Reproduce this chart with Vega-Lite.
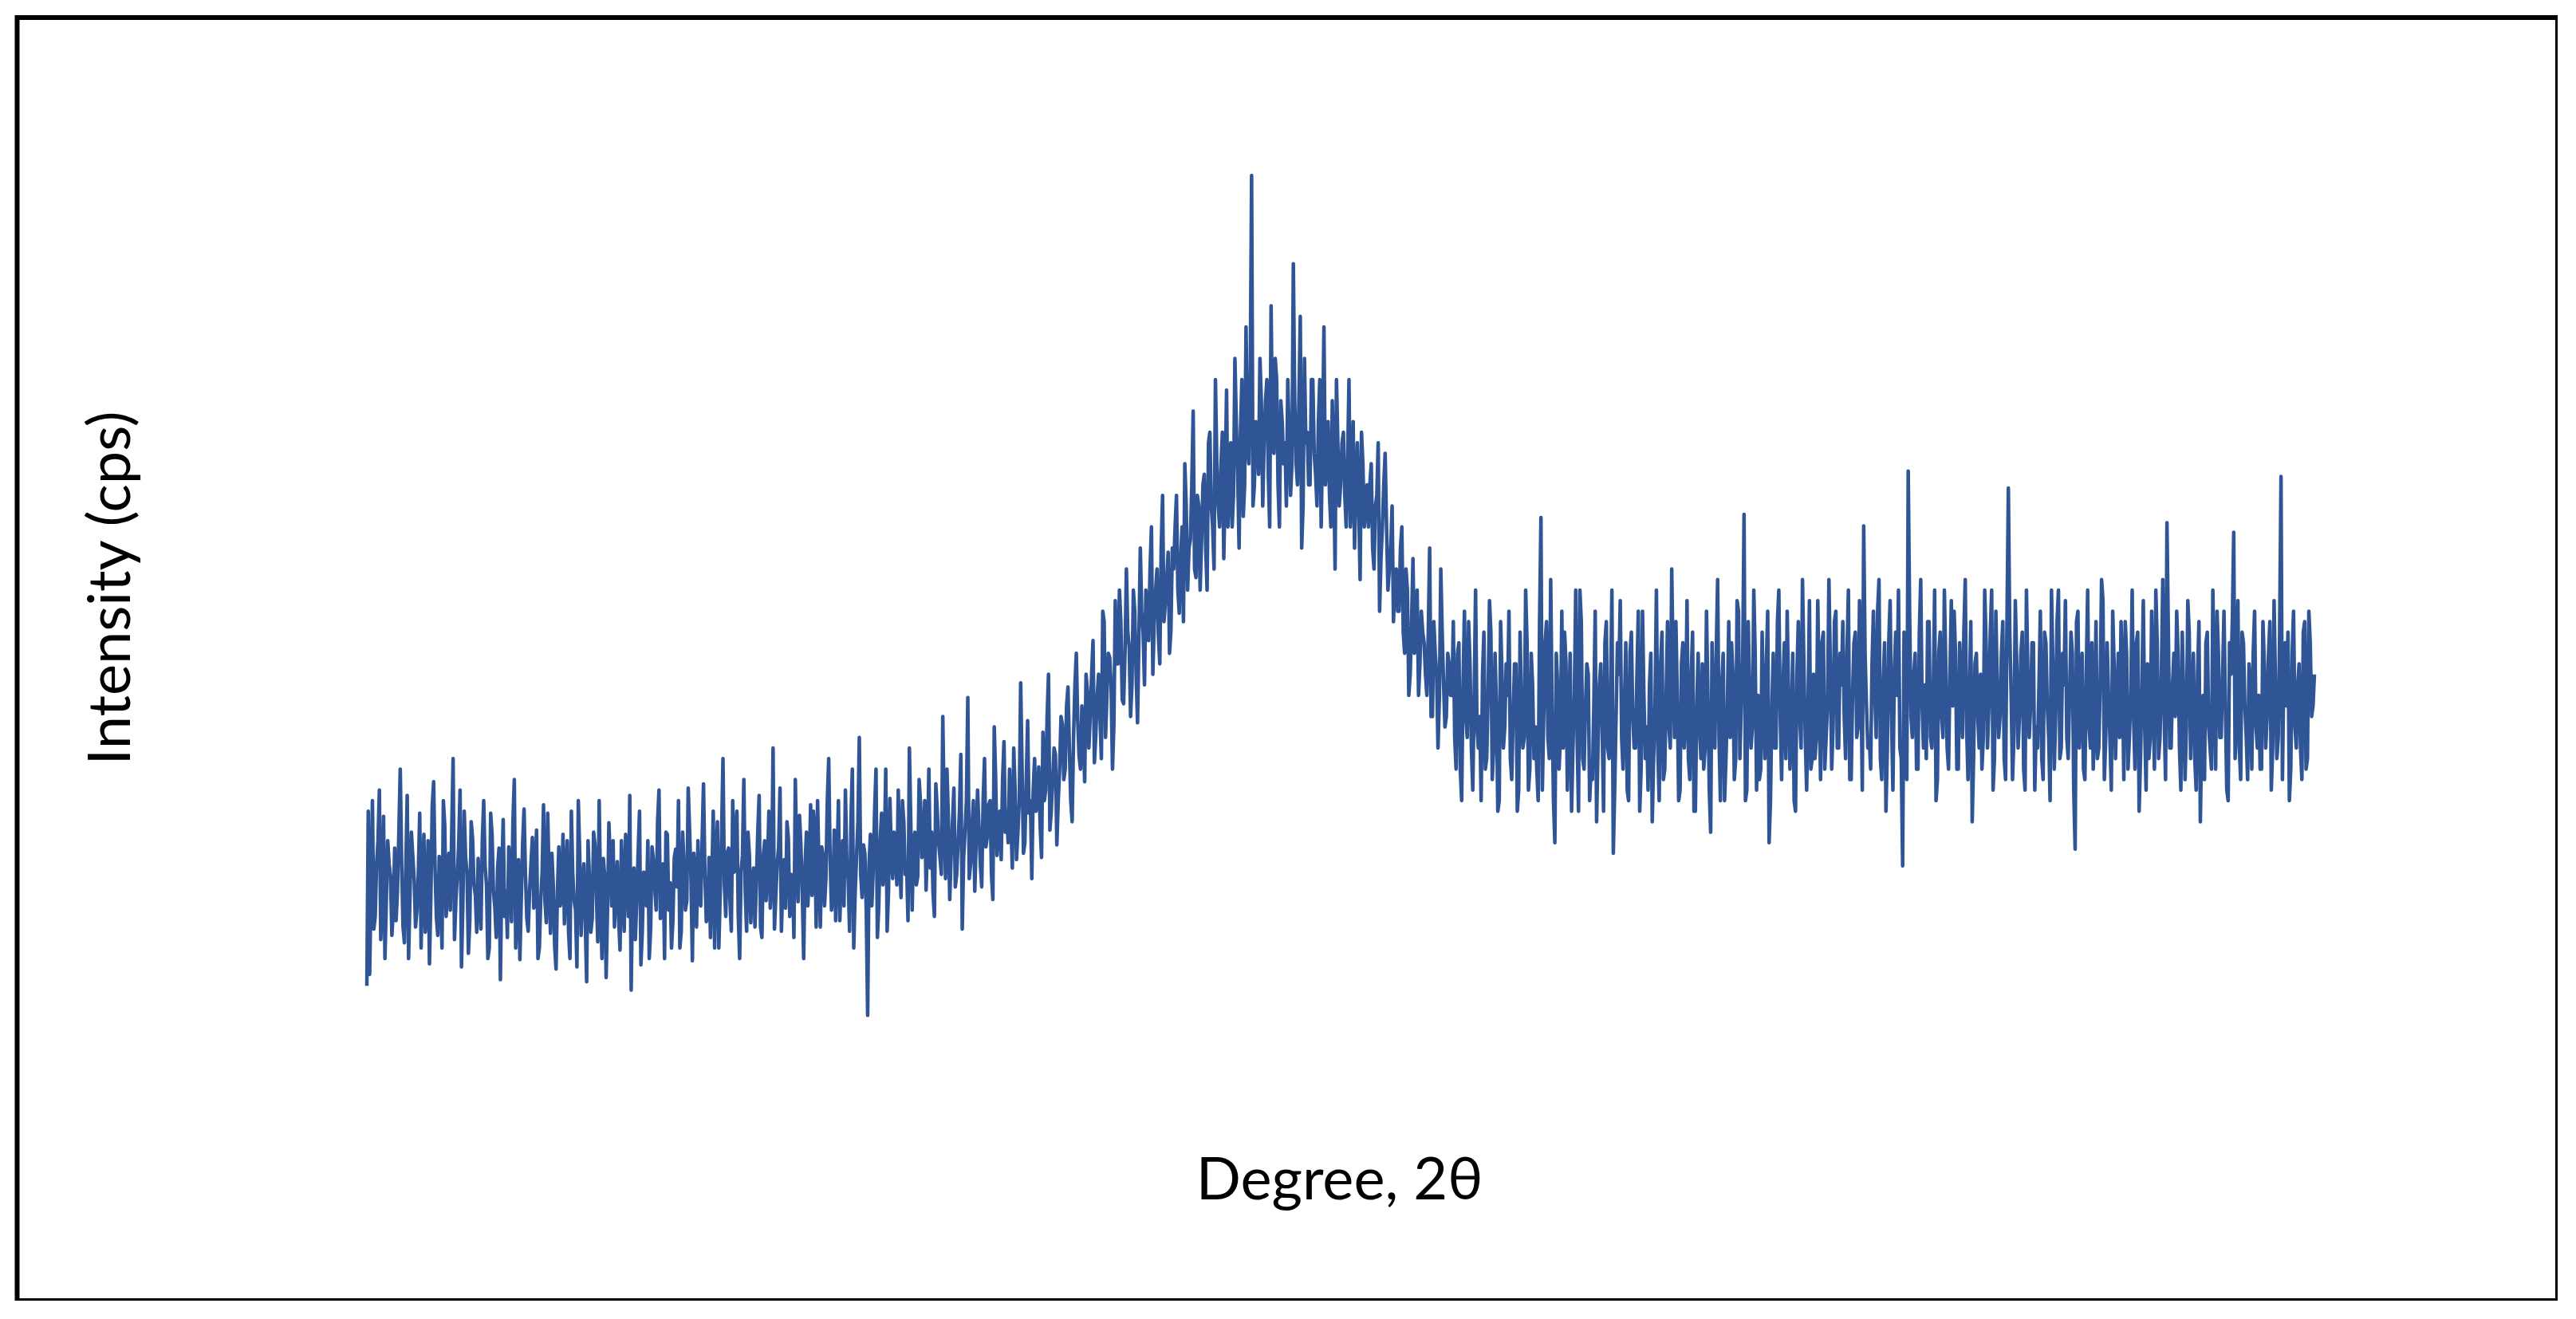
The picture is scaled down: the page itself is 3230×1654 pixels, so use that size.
{
"$schema": "https://vega.github.io/schema/vega-lite/v6.json",
"width": 3185.5,
"height": 1609,
"autosize": {"type": "none"},
"padding": {"left": 21.5, "top": 22, "right": 0, "bottom": 0},
"background": "white",
"config": {"view": {"stroke": "black", "strokeWidth": 6}, "font": "Lato"},
"data": {"values": [
{"x":10.0,"y":124},{"x":10.1,"y":135},{"x":10.2,"y":300},{"x":10.3,"y":190},{"x":10.4,"y":262},{"x":10.5,"y":168},{"x":10.6,"y":285},{"x":10.7,"y":205},{"x":10.8,"y":240},{"x":10.9,"y":172},
{"x":11.0,"y":255},{"x":11.1,"y":214},{"x":11.2,"y":330},{"x":11.3,"y":180},{"x":11.4,"y":236},{"x":11.5,"y":150},{"x":11.6,"y":270},{"x":11.7,"y":225},{"x":11.8,"y":196},{"x":11.9,"y":288},
{"x":12.0,"y":230},{"x":12.1,"y":175},{"x":12.2,"y":262},{"x":12.3,"y":208},{"x":12.4,"y":318},{"x":12.5,"y":189},{"x":12.6,"y":247},{"x":12.7,"y":160},{"x":12.8,"y":276},{"x":12.9,"y":218},
{"x":13.0,"y":196},{"x":13.1,"y":340},{"x":13.2,"y":205},{"x":13.3,"y":258},{"x":13.4,"y":142},{"x":13.5,"y":290},{"x":13.6,"y":232},{"x":13.7,"y":186},{"x":13.8,"y":264},{"x":13.9,"y":210},
{"x":14.0,"y":245},{"x":14.1,"y":178},{"x":14.2,"y":300},{"x":14.3,"y":220},{"x":14.4,"y":160},{"x":14.5,"y":268},{"x":14.6,"y":199},{"x":14.7,"y":236},{"x":14.8,"y":130},{"x":14.9,"y":282},
{"x":15.0,"y":214},{"x":15.1,"y":256},{"x":15.2,"y":185},{"x":15.3,"y":320},{"x":15.4,"y":203},{"x":15.5,"y":149},{"x":15.6,"y":260},{"x":15.7,"y":230},{"x":15.8,"y":176},{"x":15.9,"y":241},
{"x":16.0,"y":198},{"x":16.1,"y":272},{"x":16.2,"y":160},{"x":16.3,"y":232},{"x":16.4,"y":205},{"x":16.5,"y":288},{"x":16.6,"y":174},{"x":16.7,"y":220},{"x":16.8,"y":140},{"x":16.9,"y":256},
{"x":17.0,"y":210},{"x":17.1,"y":183},{"x":17.2,"y":262},{"x":17.3,"y":150},{"x":17.4,"y":231},{"x":17.5,"y":196},{"x":17.6,"y":300},{"x":17.7,"y":172},{"x":17.8,"y":240},{"x":17.9,"y":128},
{"x":18.0,"y":226},{"x":18.1,"y":188},{"x":18.2,"y":258},{"x":18.3,"y":166},{"x":18.4,"y":210},{"x":18.5,"y":245},{"x":18.6,"y":132},{"x":18.7,"y":279},{"x":18.8,"y":200},{"x":18.9,"y":180},
{"x":19.0,"y":242},{"x":19.1,"y":158},{"x":19.2,"y":220},{"x":19.3,"y":268},{"x":19.4,"y":190},{"x":19.5,"y":120},{"x":19.6,"y":236},{"x":19.7,"y":205},{"x":19.8,"y":290},{"x":19.9,"y":176},
{"x":20.0,"y":230},{"x":20.1,"y":262},{"x":20.2,"y":178},{"x":20.3,"y":244},{"x":20.4,"y":196},{"x":20.5,"y":310},{"x":20.6,"y":210},{"x":20.7,"y":150},{"x":20.8,"y":268},{"x":20.9,"y":222},
{"x":21.0,"y":186},{"x":21.1,"y":254},{"x":21.2,"y":300},{"x":21.3,"y":176},{"x":21.4,"y":238},{"x":21.5,"y":205},{"x":21.6,"y":272},{"x":21.7,"y":148},{"x":21.8,"y":230},{"x":21.9,"y":262},
{"x":22.0,"y":200},{"x":22.1,"y":316},{"x":22.2,"y":185},{"x":22.3,"y":246},{"x":22.4,"y":226},{"x":22.5,"y":160},{"x":22.6,"y":280},{"x":22.7,"y":212},{"x":22.8,"y":340},{"x":22.9,"y":190},
{"x":23.0,"y":255},{"x":23.1,"y":176},{"x":23.2,"y":232},{"x":23.3,"y":290},{"x":23.4,"y":150},{"x":23.5,"y":248},{"x":23.6,"y":213},{"x":23.7,"y":270},{"x":23.8,"y":184},{"x":23.9,"y":236},
{"x":24.0,"y":222},{"x":24.1,"y":305},{"x":24.2,"y":170},{"x":24.3,"y":262},{"x":24.4,"y":238},{"x":24.5,"y":198},{"x":24.6,"y":350},{"x":24.7,"y":210},{"x":24.8,"y":256},{"x":24.9,"y":176},
{"x":25.0,"y":244},{"x":25.1,"y":280},{"x":25.2,"y":190},{"x":25.3,"y":228},{"x":25.4,"y":320},{"x":25.5,"y":204},{"x":25.6,"y":258},{"x":25.7,"y":150},{"x":25.8,"y":270},{"x":25.9,"y":232},
{"x":26.0,"y":210},{"x":26.1,"y":266},{"x":26.2,"y":300},{"x":26.3,"y":180},{"x":26.4,"y":248},{"x":26.5,"y":226},{"x":26.6,"y":340},{"x":26.7,"y":196},{"x":26.8,"y":272},{"x":26.9,"y":240},
{"x":27.0,"y":186},{"x":27.1,"y":262},{"x":27.2,"y":310},{"x":27.3,"y":225},{"x":27.4,"y":282},{"x":27.5,"y":160},{"x":27.6,"y":246},{"x":27.7,"y":360},{"x":27.8,"y":208},{"x":27.9,"y":250},
{"x":28.0,"y":96},{"x":28.1,"y":268},{"x":28.2,"y":234},{"x":28.3,"y":330},{"x":28.4,"y":200},{"x":28.5,"y":288},{"x":28.6,"y":250},{"x":28.7,"y":176},{"x":28.8,"y":302},{"x":28.9,"y":226},
{"x":29.0,"y":262},{"x":29.1,"y":310},{"x":29.2,"y":208},{"x":29.3,"y":280},{"x":29.4,"y":240},{"x":29.5,"y":350},{"x":29.6,"y":196},{"x":29.7,"y":270},{"x":29.8,"y":228},{"x":29.9,"y":298},
{"x":30.0,"y":254},{"x":30.1,"y":215},{"x":30.2,"y":330},{"x":30.3,"y":270},{"x":30.4,"y":190},{"x":30.5,"y":292},{"x":30.6,"y":246},{"x":30.7,"y":380},{"x":30.8,"y":226},{"x":30.9,"y":284},
{"x":31.0,"y":248},{"x":31.1,"y":312},{"x":31.2,"y":230},{"x":31.3,"y":290},{"x":31.4,"y":178},{"x":31.5,"y":270},{"x":31.6,"y":398},{"x":31.7,"y":240},{"x":31.8,"y":300},{"x":31.9,"y":262},
{"x":32.0,"y":276},{"x":32.1,"y":218},{"x":32.2,"y":340},{"x":32.3,"y":266},{"x":32.4,"y":300},{"x":32.5,"y":206},{"x":32.6,"y":322},{"x":32.7,"y":270},{"x":32.8,"y":244},{"x":32.9,"y":356},
{"x":33.0,"y":290},{"x":33.1,"y":330},{"x":33.2,"y":236},{"x":33.3,"y":310},{"x":33.4,"y":270},{"x":33.5,"y":412},{"x":33.6,"y":250},{"x":33.7,"y":318},{"x":33.8,"y":288},{"x":33.9,"y":226},
{"x":34.0,"y":340},{"x":34.1,"y":300},{"x":34.2,"y":276},{"x":34.3,"y":365},{"x":34.4,"y":310},{"x":34.5,"y":420},{"x":34.6,"y":290},{"x":34.7,"y":350},{"x":34.8,"y":258},{"x":34.9,"y":330},
{"x":35.0,"y":372},{"x":35.1,"y":330},{"x":35.2,"y":408},{"x":35.3,"y":300},{"x":35.4,"y":360},{"x":35.5,"y":440},{"x":35.6,"y":342},{"x":35.7,"y":390},{"x":35.8,"y":318},{"x":35.9,"y":404},
{"x":36.0,"y":380},{"x":36.1,"y":452},{"x":36.2,"y":362},{"x":36.3,"y":420},{"x":36.4,"y":340},{"x":36.5,"y":470},{"x":36.6,"y":400},{"x":36.7,"y":436},{"x":36.8,"y":330},{"x":36.9,"y":490},
{"x":37.0,"y":430},{"x":37.1,"y":470},{"x":37.2,"y":392},{"x":37.3,"y":520},{"x":37.4,"y":446},{"x":37.5,"y":410},{"x":37.6,"y":480},{"x":37.7,"y":374},{"x":37.8,"y":540},{"x":37.9,"y":460},
{"x":38.0,"y":500},{"x":38.1,"y":452},{"x":38.2,"y":560},{"x":38.3,"y":470},{"x":38.4,"y":520},{"x":38.5,"y":430},{"x":38.6,"y":590},{"x":38.7,"y":488},{"x":38.8,"y":536},{"x":38.9,"y":462},
{"x":39.0,"y":520},{"x":39.1,"y":590},{"x":39.2,"y":478},{"x":39.3,"y":560},{"x":39.4,"y":620},{"x":39.5,"y":500},{"x":39.6,"y":548},{"x":39.7,"y":670},{"x":39.8,"y":512},{"x":39.9,"y":580},
{"x":40.0,"y":545},{"x":40.1,"y":610},{"x":40.2,"y":500},{"x":40.3,"y":650},{"x":40.4,"y":560},{"x":40.5,"y":700},{"x":40.6,"y":580},{"x":40.7,"y":620},{"x":40.8,"y":530},{"x":40.9,"y":690},
{"x":41.0,"y":600},{"x":41.1,"y":560},{"x":41.2,"y":720},{"x":41.3,"y":610},{"x":41.4,"y":650},{"x":41.5,"y":570},{"x":41.6,"y":750},{"x":41.7,"y":620},{"x":41.8,"y":894},{"x":41.9,"y":600},
{"x":42.0,"y":650},{"x":42.1,"y":720},{"x":42.2,"y":580},{"x":42.3,"y":680},{"x":42.4,"y":610},{"x":42.5,"y":770},{"x":42.6,"y":630},{"x":42.7,"y":700},{"x":42.8,"y":560},{"x":42.9,"y":660},
{"x":43.0,"y":640},{"x":43.1,"y":700},{"x":43.2,"y":590},{"x":43.3,"y":810},{"x":43.4,"y":620},{"x":43.5,"y":680},{"x":43.6,"y":540},{"x":43.7,"y":720},{"x":43.8,"y":650},{"x":43.9,"y":600},
{"x":44.0,"y":700},{"x":44.1,"y":610},{"x":44.2,"y":660},{"x":44.3,"y":560},{"x":44.4,"y":750},{"x":44.5,"y":620},{"x":44.6,"y":590},{"x":44.7,"y":680},{"x":44.8,"y":520},{"x":44.9,"y":640},
{"x":45.0,"y":600},{"x":45.1,"y":650},{"x":45.2,"y":560},{"x":45.3,"y":700},{"x":45.4,"y":590},{"x":45.5,"y":540},{"x":45.6,"y":640},{"x":45.7,"y":510},{"x":45.8,"y":620},{"x":45.9,"y":580},
{"x":46.0,"y":560},{"x":46.1,"y":620},{"x":46.2,"y":520},{"x":46.3,"y":590},{"x":46.4,"y":480},{"x":46.5,"y":560},{"x":46.6,"y":630},{"x":46.7,"y":500},{"x":46.8,"y":540},{"x":46.9,"y":470},
{"x":47.0,"y":520},{"x":47.1,"y":480},{"x":47.2,"y":560},{"x":47.3,"y":440},{"x":47.4,"y":500},{"x":47.5,"y":420},{"x":47.6,"y":530},{"x":47.7,"y":460},{"x":47.8,"y":400},{"x":47.9,"y":480},
{"x":48.0,"y":450},{"x":48.1,"y":400},{"x":48.2,"y":540},{"x":48.3,"y":380},{"x":48.4,"y":440},{"x":48.5,"y":350},{"x":48.6,"y":520},{"x":48.7,"y":410},{"x":48.8,"y":380},{"x":48.9,"y":430},
{"x":49.0,"y":400},{"x":49.1,"y":360},{"x":49.2,"y":440},{"x":49.3,"y":330},{"x":49.4,"y":410},{"x":49.5,"y":380},{"x":49.6,"y":470},{"x":49.7,"y":350},{"x":49.8,"y":400},{"x":49.9,"y":370},
{"x":50.0,"y":380},{"x":50.1,"y":420},{"x":50.2,"y":330},{"x":50.3,"y":400},{"x":50.4,"y":460},{"x":50.5,"y":350},{"x":50.6,"y":390},{"x":50.7,"y":300},{"x":50.8,"y":420},{"x":50.9,"y":370},
{"x":51.0,"y":400},{"x":51.1,"y":340},{"x":51.2,"y":380},{"x":51.3,"y":430},{"x":51.4,"y":310},{"x":51.5,"y":390},{"x":51.6,"y":360},{"x":51.7,"y":450},{"x":51.8,"y":330},{"x":51.9,"y":410},
{"x":52.0,"y":370},{"x":52.1,"y":300},{"x":52.2,"y":569},{"x":52.3,"y":380},{"x":52.4,"y":470},{"x":52.5,"y":340},{"x":52.6,"y":390},{"x":52.7,"y":260},{"x":52.8,"y":410},{"x":52.9,"y":360},
{"x":53.0,"y":350},{"x":53.1,"y":430},{"x":53.2,"y":380},{"x":53.3,"y":290},{"x":53.4,"y":400},{"x":53.5,"y":360},{"x":53.6,"y":500},{"x":53.7,"y":340},{"x":53.8,"y":390},{"x":53.9,"y":420},
{"x":54.0,"y":330},{"x":54.1,"y":390},{"x":54.2,"y":280},{"x":54.3,"y":410},{"x":54.4,"y":370},{"x":54.5,"y":450},{"x":54.6,"y":350},{"x":54.7,"y":400},{"x":54.8,"y":250},{"x":54.9,"y":380},
{"x":55.0,"y":420},{"x":55.1,"y":360},{"x":55.2,"y":390},{"x":55.3,"y":310},{"x":55.4,"y":440},{"x":55.5,"y":380},{"x":55.6,"y":350},{"x":55.7,"y":480},{"x":55.8,"y":330},{"x":55.9,"y":400},
{"x":56.0,"y":370},{"x":56.1,"y":410},{"x":56.2,"y":280},{"x":56.3,"y":390},{"x":56.4,"y":350},{"x":56.5,"y":430},{"x":56.6,"y":320},{"x":56.7,"y":400},{"x":56.8,"y":370},{"x":56.9,"y":520},
{"x":57.0,"y":360},{"x":57.1,"y":400},{"x":57.2,"y":310},{"x":57.3,"y":450},{"x":57.4,"y":380},{"x":57.5,"y":340},{"x":57.6,"y":420},{"x":57.7,"y":290},{"x":57.8,"y":390},{"x":57.9,"y":370},
{"x":58.0,"y":430},{"x":58.1,"y":350},{"x":58.2,"y":400},{"x":58.3,"y":270},{"x":58.4,"y":380},{"x":58.5,"y":440},{"x":58.6,"y":360},{"x":58.7,"y":410},{"x":58.8,"y":300},{"x":58.9,"y":390},
{"x":59.0,"y":360},{"x":59.1,"y":420},{"x":59.2,"y":340},{"x":59.3,"y":480},{"x":59.4,"y":390},{"x":59.5,"y":572},{"x":59.6,"y":310},{"x":59.7,"y":400},{"x":59.8,"y":370},{"x":59.9,"y":440},
{"x":60.0,"y":400},{"x":60.1,"y":330},{"x":60.2,"y":380},{"x":60.3,"y":430},{"x":60.4,"y":260},{"x":60.5,"y":390},{"x":60.6,"y":350},{"x":60.7,"y":470},{"x":60.8,"y":380},{"x":60.9,"y":410},
{"x":61.0,"y":340},{"x":61.1,"y":400},{"x":61.2,"y":370},{"x":61.3,"y":300},{"x":61.4,"y":420},{"x":61.5,"y":380},{"x":61.6,"y":510},{"x":61.7,"y":360},{"x":61.8,"y":390},{"x":61.9,"y":330},
{"x":62.0,"y":420},{"x":62.1,"y":360},{"x":62.2,"y":400},{"x":62.3,"y":450},{"x":62.4,"y":330},{"x":62.5,"y":390},{"x":62.6,"y":430},{"x":62.7,"y":370},{"x":62.8,"y":480},{"x":62.9,"y":350},
{"x":63.0,"y":410},{"x":63.1,"y":380},{"x":63.2,"y":440},{"x":63.3,"y":320},{"x":63.4,"y":400},{"x":63.5,"y":460},{"x":63.6,"y":370},{"x":63.7,"y":420},{"x":63.8,"y":561},{"x":63.9,"y":390},
{"x":64.0,"y":360},{"x":64.1,"y":430},{"x":64.2,"y":400},{"x":64.3,"y":480},{"x":64.4,"y":340},{"x":64.5,"y":410},{"x":64.6,"y":290},{"x":64.7,"y":450},{"x":64.8,"y":380},{"x":64.9,"y":420},
{"x":65.0,"y":400},{"x":65.1,"y":350},{"x":65.2,"y":238},{"x":65.3,"y":440},{"x":65.4,"y":613},{"x":65.5,"y":380},{"x":65.6,"y":420},{"x":65.7,"y":330},{"x":65.8,"y":460},{"x":65.9,"y":390},
{"x":66.0,"y":410},{"x":66.1,"y":470},{"x":66.2,"y":360},{"x":66.3,"y":400},{"x":66.4,"y":300},{"x":66.5,"y":440},{"x":66.6,"y":380},{"x":66.7,"y":500},{"x":66.8,"y":350},{"x":66.9,"y":420},
{"x":67.0,"y":390},{"x":67.1,"y":440},{"x":67.2,"y":330},{"x":67.3,"y":410},{"x":67.4,"y":460},{"x":67.5,"y":370},{"x":67.6,"y":400},{"x":67.7,"y":280},{"x":67.8,"y":430},{"x":67.9,"y":380},
{"x":68.0,"y":420},{"x":68.1,"y":360},{"x":68.2,"y":450},{"x":68.3,"y":390},{"x":68.4,"y":500},{"x":68.5,"y":340},{"x":68.6,"y":410},{"x":68.7,"y":380},{"x":68.8,"y":470},{"x":68.9,"y":320},
{"x":69.0,"y":597},{"x":69.1,"y":400},{"x":69.2,"y":360},{"x":69.3,"y":430},{"x":69.4,"y":380},{"x":69.5,"y":460},{"x":69.6,"y":310},{"x":69.7,"y":420},{"x":69.8,"y":390},{"x":69.9,"y":450},
{"x":70.0,"y":370},{"x":70.1,"y":410},{"x":70.2,"y":340},{"x":70.3,"y":460},{"x":70.4,"y":390},{"x":70.5,"y":300},{"x":70.6,"y":430},{"x":70.7,"y":380},{"x":70.8,"y":500},{"x":70.9,"y":350},
{"x":71.0,"y":410},{"x":71.1,"y":360},{"x":71.2,"y":400},{"x":71.3,"y":440},{"x":71.4,"y":254},{"x":71.5,"y":480},{"x":71.6,"y":390},{"x":71.7,"y":330},{"x":71.8,"y":420},{"x":71.9,"y":370},
{"x":72.0,"y":450},{"x":72.1,"y":380},{"x":72.2,"y":340},{"x":72.3,"y":410},{"x":72.4,"y":490},{"x":72.5,"y":360},{"x":72.6,"y":400},{"x":72.7,"y":310},{"x":72.8,"y":430},{"x":72.9,"y":390},
{"x":73.0,"y":360},{"x":73.1,"y":420},{"x":73.2,"y":470},{"x":73.3,"y":330},{"x":73.4,"y":400},{"x":73.5,"y":380},{"x":73.6,"y":450},{"x":73.7,"y":290},{"x":73.8,"y":410},{"x":73.9,"y":370},
{"x":74.0,"y":430},{"x":74.1,"y":360},{"x":74.2,"y":400},{"x":74.3,"y":500},{"x":74.4,"y":340},{"x":74.5,"y":420},{"x":74.6,"y":380},{"x":74.7,"y":564},{"x":74.8,"y":350},{"x":74.9,"y":410},
{"x":75.0,"y":380},{"x":75.1,"y":440},{"x":75.2,"y":310},{"x":75.3,"y":400},{"x":75.4,"y":370},{"x":75.5,"y":460},{"x":75.6,"y":390},{"x":75.7,"y":340},{"x":75.8,"y":420},{"x":75.9,"y":280},
{"x":76.0,"y":400},{"x":76.1,"y":450},{"x":76.2,"y":370},{"x":76.3,"y":330},{"x":76.4,"y":410},{"x":76.5,"y":480},{"x":76.6,"y":360},{"x":76.7,"y":420},{"x":76.8,"y":390},{"x":76.9,"y":300},
{"x":77.0,"y":420},{"x":77.1,"y":555},{"x":77.2,"y":380},{"x":77.3,"y":350},{"x":77.4,"y":460},{"x":77.5,"y":390},{"x":77.6,"y":320},{"x":77.7,"y":410},{"x":77.8,"y":440},{"x":77.9,"y":370},
{"x":78.0,"y":400},{"x":78.1,"y":330},{"x":78.2,"y":430},{"x":78.3,"y":380},{"x":78.4,"y":470},{"x":78.5,"y":350},{"x":78.6,"y":410},{"x":78.7,"y":360},{"x":78.8,"y":608},{"x":78.9,"y":420},
{"x":79.0,"y":390},{"x":79.1,"y":300},{"x":79.2,"y":440},{"x":79.3,"y":370},{"x":79.4,"y":410},{"x":79.5,"y":350},{"x":79.6,"y":460},{"x":79.7,"y":330},{"x":79.8,"y":480},{"x":79.9,"y":380},
{"x":80.0,"y":420},
{"x":10.05,"y":290},{"x":10.15,"y":215},{"x":10.25,"y":178},{"x":10.35,"y":240},{"x":10.45,"y":310},{"x":10.55,"y":200},{"x":10.65,"y":150},{"x":10.75,"y":262},{"x":10.85,"y":228},{"x":10.95,"y":196},
{"x":11.05,"y":186},{"x":11.15,"y":270},{"x":11.25,"y":242},{"x":11.35,"y":165},{"x":11.45,"y":305},{"x":11.55,"y":210},{"x":11.65,"y":248},{"x":11.75,"y":180},{"x":11.85,"y":232},{"x":11.95,"y":160},
{"x":12.05,"y":268},{"x":12.15,"y":200},{"x":12.25,"y":145},{"x":12.35,"y":295},{"x":12.45,"y":236},{"x":12.55,"y":172},{"x":12.65,"y":222},{"x":12.75,"y":300},{"x":12.85,"y":190},{"x":12.95,"y":250},
{"x":13.05,"y":270},{"x":13.15,"y":168},{"x":13.25,"y":228},{"x":13.35,"y":310},{"x":13.45,"y":200},{"x":13.55,"y":246},{"x":13.65,"y":155},{"x":13.75,"y":280},{"x":13.85,"y":220},{"x":13.95,"y":175},
{"x":14.05,"y":205},{"x":14.15,"y":262},{"x":14.25,"y":238},{"x":14.35,"y":150},{"x":14.45,"y":288},{"x":14.55,"y":214},{"x":14.65,"y":170},{"x":14.75,"y":255},{"x":14.85,"y":230},{"x":14.95,"y":190},
{"x":15.05,"y":170},{"x":15.15,"y":230},{"x":15.25,"y":280},{"x":15.35,"y":160},{"x":15.45,"y":244},{"x":15.55,"y":206},{"x":15.65,"y":292},{"x":15.75,"y":188},{"x":15.85,"y":215},{"x":15.95,"y":265},
{"x":16.05,"y":238},{"x":16.15,"y":150},{"x":16.25,"y":206},{"x":16.35,"y":296},{"x":16.45,"y":184},{"x":16.55,"y":226},{"x":16.65,"y":250},{"x":16.75,"y":162},{"x":16.85,"y":215},{"x":16.95,"y":200},
{"x":17.05,"y":268},{"x":17.15,"y":224},{"x":17.25,"y":175},{"x":17.35,"y":290},{"x":17.45,"y":205},{"x":17.55,"y":142},{"x":17.65,"y":250},{"x":17.75,"y":218},{"x":17.85,"y":186},{"x":17.95,"y":262},
{"x":18.05,"y":175},{"x":18.15,"y":270},{"x":18.25,"y":210},{"x":18.35,"y":300},{"x":18.45,"y":150},{"x":18.55,"y":228},{"x":18.65,"y":196},{"x":18.75,"y":240},{"x":18.85,"y":262},{"x":18.95,"y":214},
{"x":19.05,"y":188},{"x":19.15,"y":262},{"x":19.25,"y":176},{"x":19.35,"y":230},{"x":19.45,"y":305},{"x":19.55,"y":215},{"x":19.65,"y":168},{"x":19.75,"y":250},{"x":19.85,"y":144},{"x":19.95,"y":232},
{"x":20.05,"y":200},{"x":20.15,"y":150},{"x":20.25,"y":256},{"x":20.35,"y":216},{"x":20.45,"y":280},{"x":20.55,"y":188},{"x":20.65,"y":240},{"x":20.75,"y":270},{"x":20.85,"y":196},{"x":20.95,"y":160},
{"x":21.05,"y":246},{"x":21.15,"y":218},{"x":21.25,"y":160},{"x":21.35,"y":270},{"x":21.45,"y":196},{"x":21.55,"y":312},{"x":21.65,"y":226},{"x":21.75,"y":250},{"x":21.85,"y":180},{"x":21.95,"y":205},
{"x":22.05,"y":262},{"x":22.15,"y":230},{"x":22.25,"y":190},{"x":22.35,"y":170},{"x":22.45,"y":290},{"x":22.55,"y":245},{"x":22.65,"y":160},{"x":22.75,"y":268},{"x":22.85,"y":220},{"x":22.95,"y":250},
{"x":23.05,"y":205},{"x":23.15,"y":300},{"x":23.25,"y":264},{"x":23.35,"y":190},{"x":23.45,"y":232},{"x":23.55,"y":320},{"x":23.65,"y":176},{"x":23.75,"y":248},{"x":23.85,"y":222},{"x":23.95,"y":180},
{"x":24.05,"y":270},{"x":24.15,"y":180},{"x":24.25,"y":248},{"x":24.35,"y":205},{"x":24.45,"y":290},{"x":24.55,"y":226},{"x":24.65,"y":178},{"x":24.75,"y":240},{"x":24.85,"y":312},{"x":24.95,"y":225},
{"x":25.05,"y":198},{"x":25.15,"y":264},{"x":25.25,"y":230},{"x":25.35,"y":170},{"x":25.45,"y":244},{"x":25.55,"y":286},{"x":25.65,"y":214},{"x":25.75,"y":238},{"x":25.85,"y":200},{"x":25.95,"y":296},
{"x":26.05,"y":290},{"x":26.15,"y":180},{"x":26.25,"y":236},{"x":26.35,"y":256},{"x":26.45,"y":200},{"x":26.55,"y":300},{"x":26.65,"y":246},{"x":26.75,"y":210},{"x":26.85,"y":186},{"x":26.95,"y":300},
{"x":27.05,"y":230},{"x":27.15,"y":200},{"x":27.25,"y":244},{"x":27.35,"y":176},{"x":27.45,"y":330},{"x":27.55,"y":212},{"x":27.65,"y":280},{"x":27.75,"y":230},{"x":27.85,"y":258},{"x":27.95,"y":196},
{"x":28.05,"y":240},{"x":28.15,"y":200},{"x":28.25,"y":290},{"x":28.35,"y":170},{"x":28.45,"y":262},{"x":28.55,"y":220},{"x":28.65,"y":330},{"x":28.75,"y":214},{"x":28.85,"y":250},{"x":28.95,"y":270},
{"x":29.05,"y":220},{"x":29.15,"y":250},{"x":29.25,"y":300},{"x":29.35,"y":230},{"x":29.45,"y":186},{"x":29.55,"y":280},{"x":29.65,"y":262},{"x":29.75,"y":220},{"x":29.85,"y":320},{"x":29.95,"y":246},
{"x":30.05,"y":300},{"x":30.15,"y":260},{"x":30.25,"y":236},{"x":30.35,"y":212},{"x":30.45,"y":316},{"x":30.55,"y":260},{"x":30.65,"y":230},{"x":30.75,"y":290},{"x":30.85,"y":330},{"x":30.95,"y":206},
{"x":31.05,"y":280},{"x":31.15,"y":218},{"x":31.25,"y":260},{"x":31.35,"y":344},{"x":31.45,"y":246},{"x":31.55,"y":300},{"x":31.65,"y":226},{"x":31.75,"y":276},{"x":31.85,"y":214},{"x":31.95,"y":310},
{"x":32.05,"y":240},{"x":32.15,"y":300},{"x":32.25,"y":256},{"x":32.35,"y":296},{"x":32.45,"y":230},{"x":32.55,"y":370},{"x":32.65,"y":248},{"x":32.75,"y":290},{"x":32.85,"y":320},{"x":32.95,"y":270},
{"x":33.05,"y":260},{"x":33.15,"y":280},{"x":33.25,"y":350},{"x":33.35,"y":244},{"x":33.45,"y":300},{"x":33.55,"y":330},{"x":33.65,"y":260},{"x":33.75,"y":376},{"x":33.85,"y":300},{"x":33.95,"y":310},
{"x":34.05,"y":290},{"x":34.15,"y":332},{"x":34.25,"y":246},{"x":34.35,"y":300},{"x":34.45,"y":380},{"x":34.55,"y":272},{"x":34.65,"y":320},{"x":34.75,"y":344},{"x":34.85,"y":300},{"x":34.95,"y":380},
{"x":35.05,"y":320},{"x":35.15,"y":390},{"x":35.25,"y":350},{"x":35.35,"y":280},{"x":35.45,"y":410},{"x":35.55,"y":376},{"x":35.65,"y":330},{"x":35.75,"y":370},{"x":35.85,"y":420},{"x":35.95,"y":350},
{"x":36.05,"y":420},{"x":36.15,"y":336},{"x":36.25,"y":400},{"x":36.35,"y":380},{"x":36.45,"y":480},{"x":36.55,"y":360},{"x":36.65,"y":440},{"x":36.75,"y":410},{"x":36.85,"y":372},{"x":36.95,"y":430},
{"x":37.05,"y":500},{"x":37.15,"y":396},{"x":37.25,"y":440},{"x":37.35,"y":460},{"x":37.45,"y":380},{"x":37.55,"y":500},{"x":37.65,"y":420},{"x":37.75,"y":456},{"x":37.85,"y":480},{"x":37.95,"y":410},
{"x":38.05,"y":470},{"x":38.15,"y":520},{"x":38.25,"y":420},{"x":38.35,"y":500},{"x":38.45,"y":456},{"x":38.55,"y":540},{"x":38.65,"y":470},{"x":38.75,"y":510},{"x":38.85,"y":440},{"x":38.95,"y":540},
{"x":39.05,"y":560},{"x":39.15,"y":500},{"x":39.25,"y":530},{"x":39.35,"y":470},{"x":39.45,"y":580},{"x":39.55,"y":540},{"x":39.65,"y":600},{"x":39.75,"y":520},{"x":39.85,"y":590},{"x":39.95,"y":500},
{"x":40.05,"y":600},{"x":40.15,"y":540},{"x":40.25,"y":640},{"x":40.35,"y":580},{"x":40.45,"y":520},{"x":40.55,"y":620},{"x":40.65,"y":560},{"x":40.75,"y":650},{"x":40.85,"y":600},{"x":40.95,"y":560},
{"x":41.05,"y":640},{"x":41.15,"y":590},{"x":41.25,"y":660},{"x":41.35,"y":540},{"x":41.45,"y":700},{"x":41.55,"y":600},{"x":41.65,"y":640},{"x":41.75,"y":700},{"x":41.85,"y":580},{"x":41.95,"y":660},
{"x":42.05,"y":610},{"x":42.15,"y":680},{"x":42.25,"y":640},{"x":42.35,"y":700},{"x":42.45,"y":560},{"x":42.55,"y":650},{"x":42.65,"y":720},{"x":42.75,"y":600},{"x":42.85,"y":680},{"x":42.95,"y":620},
{"x":43.05,"y":580},{"x":43.15,"y":650},{"x":43.25,"y":620},{"x":43.35,"y":680},{"x":43.45,"y":600},{"x":43.55,"y":760},{"x":43.65,"y":580},{"x":43.75,"y":640},{"x":43.85,"y":600},{"x":43.95,"y":700},
{"x":44.05,"y":630},{"x":44.15,"y":580},{"x":44.25,"y":700},{"x":44.35,"y":640},{"x":44.45,"y":600},{"x":44.55,"y":660},{"x":44.65,"y":560},{"x":44.75,"y":620},{"x":44.85,"y":700},{"x":44.95,"y":580},
{"x":45.05,"y":640},{"x":45.15,"y":590},{"x":45.25,"y":620},{"x":45.35,"y":560},{"x":45.45,"y":660},{"x":45.55,"y":600},{"x":45.65,"y":580},{"x":45.75,"y":650},{"x":45.85,"y":560},{"x":45.95,"y":600},
{"x":46.05,"y":600},{"x":46.15,"y":540},{"x":46.25,"y":580},{"x":46.35,"y":640},{"x":46.45,"y":530},{"x":46.55,"y":600},{"x":46.65,"y":560},{"x":46.75,"y":520},{"x":46.85,"y":580},{"x":46.95,"y":510},
{"x":47.05,"y":480},{"x":47.15,"y":540},{"x":47.25,"y":460},{"x":47.35,"y":520},{"x":47.45,"y":400},{"x":47.55,"y":470},{"x":47.65,"y":440},{"x":47.75,"y":500},{"x":47.85,"y":430},{"x":47.95,"y":460},
{"x":48.05,"y":420},{"x":48.15,"y":460},{"x":48.25,"y":380},{"x":48.35,"y":470},{"x":48.45,"y":420},{"x":48.55,"y":400},{"x":48.65,"y":460},{"x":48.75,"y":370},{"x":48.85,"y":440},{"x":48.95,"y":400},
{"x":49.05,"y":470},{"x":49.15,"y":330},{"x":49.25,"y":450},{"x":49.35,"y":300},{"x":49.45,"y":480},{"x":49.55,"y":360},{"x":49.65,"y":430},{"x":49.75,"y":310},{"x":49.85,"y":500},{"x":49.95,"y":350},
{"x":50.05,"y":300},{"x":50.15,"y":460},{"x":50.25,"y":340},{"x":50.35,"y":490},{"x":50.45,"y":320},{"x":50.55,"y":440},{"x":50.65,"y":290},{"x":50.75,"y":470},{"x":50.85,"y":350},{"x":50.95,"y":430},
{"x":51.05,"y":480},{"x":51.15,"y":320},{"x":51.25,"y":430},{"x":51.35,"y":290},{"x":51.45,"y":460},{"x":51.55,"y":350},{"x":51.65,"y":500},{"x":51.75,"y":310},{"x":51.85,"y":440},{"x":51.95,"y":340},
{"x":52.05,"y":330},{"x":52.15,"y":470},{"x":52.25,"y":310},{"x":52.35,"y":450},{"x":52.45,"y":360},{"x":52.55,"y":510},{"x":52.65,"y":300},{"x":52.75,"y":440},{"x":52.85,"y":330},{"x":52.95,"y":480},
{"x":53.05,"y":460},{"x":53.15,"y":310},{"x":53.25,"y":440},{"x":53.35,"y":350},{"x":53.45,"y":500},{"x":53.55,"y":290},{"x":53.65,"y":470},{"x":53.75,"y":330},{"x":53.85,"y":430},{"x":53.95,"y":300},
{"x":54.05,"y":320},{"x":54.15,"y":480},{"x":54.25,"y":350},{"x":54.35,"y":430},{"x":54.45,"y":290},{"x":54.55,"y":470},{"x":54.65,"y":340},{"x":54.75,"y":500},{"x":54.85,"y":310},{"x":54.95,"y":450},
{"x":55.05,"y":490},{"x":55.15,"y":330},{"x":55.25,"y":450},{"x":55.35,"y":300},{"x":55.45,"y":460},{"x":55.55,"y":350},{"x":55.65,"y":420},{"x":55.75,"y":290},{"x":55.85,"y":480},{"x":55.95,"y":340},
{"x":56.05,"y":310},{"x":56.15,"y":440},{"x":56.25,"y":340},{"x":56.35,"y":500},{"x":56.45,"y":300},{"x":56.55,"y":460},{"x":56.65,"y":330},{"x":56.75,"y":470},{"x":56.85,"y":350},{"x":56.95,"y":430},
{"x":57.05,"y":470},{"x":57.15,"y":300},{"x":57.25,"y":430},{"x":57.35,"y":350},{"x":57.45,"y":490},{"x":57.55,"y":320},{"x":57.65,"y":460},{"x":57.75,"y":290},{"x":57.85,"y":440},{"x":57.95,"y":340},
{"x":58.05,"y":330},{"x":58.15,"y":480},{"x":58.25,"y":310},{"x":58.35,"y":450},{"x":58.45,"y":350},{"x":58.55,"y":510},{"x":58.65,"y":300},{"x":58.75,"y":440},{"x":58.85,"y":340},{"x":58.95,"y":470},
{"x":59.05,"y":450},{"x":59.15,"y":320},{"x":59.25,"y":490},{"x":59.35,"y":340},{"x":59.45,"y":430},{"x":59.55,"y":300},{"x":59.65,"y":470},{"x":59.75,"y":350},{"x":59.85,"y":500},{"x":59.95,"y":310},
{"x":60.05,"y":320},{"x":60.15,"y":460},{"x":60.25,"y":340},{"x":60.35,"y":480},{"x":60.45,"y":300},{"x":60.55,"y":440},{"x":60.65,"y":350},{"x":60.75,"y":500},{"x":60.85,"y":320},{"x":60.95,"y":450},
{"x":61.05,"y":480},{"x":61.15,"y":330},{"x":61.25,"y":440},{"x":61.35,"y":290},{"x":61.45,"y":470},{"x":61.55,"y":350},{"x":61.65,"y":430},{"x":61.75,"y":310},{"x":61.85,"y":490},{"x":61.95,"y":340},
{"x":62.05,"y":340},{"x":62.15,"y":490},{"x":62.25,"y":320},{"x":62.35,"y":460},{"x":62.45,"y":360},{"x":62.55,"y":510},{"x":62.65,"y":330},{"x":62.75,"y":470},{"x":62.85,"y":350},{"x":62.95,"y":440},
{"x":63.05,"y":470},{"x":63.15,"y":340},{"x":63.25,"y":500},{"x":63.35,"y":320},{"x":63.45,"y":450},{"x":63.55,"y":360},{"x":63.65,"y":490},{"x":63.75,"y":310},{"x":63.85,"y":440},{"x":63.95,"y":350},
{"x":64.05,"y":330},{"x":64.15,"y":480},{"x":64.25,"y":360},{"x":64.35,"y":510},{"x":64.45,"y":320},{"x":64.55,"y":450},{"x":64.65,"y":350},{"x":64.75,"y":490},{"x":64.85,"y":310},{"x":64.95,"y":460},
{"x":65.05,"y":500},{"x":65.15,"y":340},{"x":65.25,"y":460},{"x":65.35,"y":320},{"x":65.45,"y":480},{"x":65.55,"y":360},{"x":65.65,"y":440},{"x":65.75,"y":330},{"x":65.85,"y":510},{"x":65.95,"y":350},
{"x":66.05,"y":340},{"x":66.15,"y":470},{"x":66.25,"y":350},{"x":66.35,"y":500},{"x":66.45,"y":320},{"x":66.55,"y":460},{"x":66.65,"y":360},{"x":66.75,"y":430},{"x":66.85,"y":330},{"x":66.95,"y":490},
{"x":67.05,"y":480},{"x":67.15,"y":330},{"x":67.25,"y":450},{"x":67.35,"y":360},{"x":67.45,"y":510},{"x":67.55,"y":320},{"x":67.65,"y":470},{"x":67.75,"y":340},{"x":67.85,"y":440},{"x":67.95,"y":350},
{"x":68.05,"y":330},{"x":68.15,"y":500},{"x":68.25,"y":350},{"x":68.35,"y":460},{"x":68.45,"y":310},{"x":68.55,"y":480},{"x":68.65,"y":360},{"x":68.75,"y":440},{"x":68.85,"y":340},{"x":68.95,"y":470},
{"x":69.05,"y":460},{"x":69.15,"y":320},{"x":69.25,"y":490},{"x":69.35,"y":350},{"x":69.45,"y":440},{"x":69.55,"y":330},{"x":69.65,"y":500},{"x":69.75,"y":360},{"x":69.85,"y":450},{"x":69.95,"y":310},
{"x":70.05,"y":350},{"x":70.15,"y":480},{"x":70.25,"y":320},{"x":70.35,"y":450},{"x":70.45,"y":360},{"x":70.55,"y":500},{"x":70.65,"y":330},{"x":70.75,"y":470},{"x":70.85,"y":340},{"x":70.95,"y":440},
{"x":71.05,"y":490},{"x":71.15,"y":340},{"x":71.25,"y":460},{"x":71.35,"y":310},{"x":71.45,"y":470},{"x":71.55,"y":350},{"x":71.65,"y":440},{"x":71.75,"y":320},{"x":71.85,"y":500},{"x":71.95,"y":350},
{"x":72.05,"y":330},{"x":72.15,"y":470},{"x":72.25,"y":350},{"x":72.35,"y":510},{"x":72.45,"y":320},{"x":72.55,"y":450},{"x":72.65,"y":360},{"x":72.75,"y":480},{"x":72.85,"y":340},{"x":72.95,"y":440},
{"x":73.05,"y":470},{"x":73.15,"y":320},{"x":73.25,"y":440},{"x":73.35,"y":360},{"x":73.45,"y":500},{"x":73.55,"y":330},{"x":73.65,"y":460},{"x":73.75,"y":340},{"x":73.85,"y":490},{"x":73.95,"y":310},
{"x":74.05,"y":340},{"x":74.15,"y":480},{"x":74.25,"y":330},{"x":74.35,"y":450},{"x":74.45,"y":360},{"x":74.55,"y":510},{"x":74.65,"y":320},{"x":74.75,"y":460},{"x":74.85,"y":350},{"x":74.95,"y":440},
{"x":75.05,"y":480},{"x":75.15,"y":350},{"x":75.25,"y":460},{"x":75.35,"y":320},{"x":75.45,"y":490},{"x":75.55,"y":340},{"x":75.65,"y":440},{"x":75.75,"y":310},{"x":75.85,"y":470},{"x":75.95,"y":360},
{"x":76.05,"y":320},{"x":76.15,"y":460},{"x":76.25,"y":350},{"x":76.35,"y":500},{"x":76.45,"y":330},{"x":76.55,"y":440},{"x":76.65,"y":360},{"x":76.75,"y":480},{"x":76.85,"y":310},{"x":76.95,"y":450},
{"x":77.05,"y":470},{"x":77.15,"y":340},{"x":77.25,"y":490},{"x":77.35,"y":320},{"x":77.45,"y":450},{"x":77.55,"y":360},{"x":77.65,"y":430},{"x":77.75,"y":330},{"x":77.85,"y":480},{"x":77.95,"y":350},
{"x":78.05,"y":330},{"x":78.15,"y":470},{"x":78.25,"y":350},{"x":78.35,"y":440},{"x":78.45,"y":310},{"x":78.55,"y":490},{"x":78.65,"y":340},{"x":78.75,"y":460},{"x":78.85,"y":320},{"x":78.95,"y":450},
{"x":79.05,"y":460},{"x":79.15,"y":330},{"x":79.25,"y":480},{"x":79.35,"y":350},{"x":79.45,"y":430},{"x":79.55,"y":320},{"x":79.65,"y":470},{"x":79.75,"y":340},{"x":79.85,"y":450},{"x":79.95,"y":390}
]},
"mark": {"type": "line", "color": "#2F5597", "strokeWidth": 4.5, "strokeJoin": "round"},
"encoding": {
"x": {"field": "x", "type": "quantitative",
 "scale": {"domain": [10, 80], "range": [438.5, 2880.5], "nice": false, "zero": false},
 "axis": {"title": "Degree, 2θ", "domain": false, "ticks": false, "labels": false, "grid": false,
  "titleFont": "Lato", "titleFontSize": 74, "titleFontWeight": "normal", "titleColor": "black",
  "titleX": 1657.5, "titleY": -128, "titleBaseline": "alphabetic", "titleAlign": "center", "titleAngle": 0}},
"y": {"field": "y", "type": "quantitative",
 "scale": {"domain": [0, 1000], "range": [1378, 58], "nice": false, "zero": false},
 "axis": {"title": "Intensity (cps)", "domain": false, "ticks": false, "labels": false, "grid": false,
  "titleFont": "Lato", "titleFontSize": 74, "titleFontWeight": "normal", "titleColor": "black",
  "titleX": 140.5, "titleY": 715, "titleBaseline": "alphabetic", "titleAlign": "center", "titleAngle": 270}}
}
}
